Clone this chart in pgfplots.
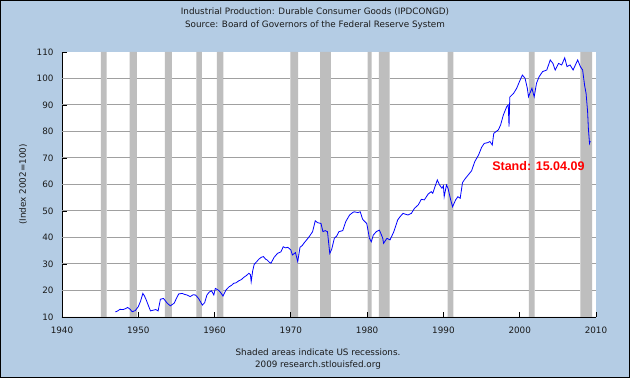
\documentclass[border=0pt]{standalone}
\usepackage{pgfplots}
\pgfplotsset{compat=1.18}
\usepackage{fontspec}
\setmainfont{DejaVu Sans}
\newfontfamily\arialfont{Liberation Sans}
\definecolor{bgblue}{HTML}{B4CCE4}
\definecolor{recgray}{HTML}{BEBEBE}
\definecolor{gridgray}{HTML}{A0A0A0}
\definecolor{txt}{HTML}{1A1A1A}
\begin{document}
\begin{tikzpicture}[x=1pt,y=1pt]
\fill[bgblue] (0,0) rectangle (630,378);
\draw[black, line width=1pt] (0.5,0.5) rectangle (629.5,377.5);
\fill[white] (62,61) rectangle (596,326);
\begin{scope}[font=\fontsize{8.8}{10}\selectfont, text=txt]
\node at (315,366) {Industrial Production: Durable Consumer Goods (IPDCONGD)};
\node at (315,352.5) {Source: Board of Governors of the Federal Reserve System};
\node at (318,26) {Shaded areas indicate US recessions.};
\node at (318,13) {2009 research.stlouisfed.org};
\node[rotate=90] at (23,193.5) {(Index 2002=100)};
\end{scope}
\begin{axis}[
  at={(62pt,61pt)}, anchor=south west,
  scale only axis, width=534pt, height=265pt,
  xmin=1940, xmax=2010, ymin=10, ymax=110,
  xtick={1940,1950,...,2010}, ytick={10,20,...,110},
  axis x line*=bottom, axis y line*=left,
  axis line style={black, line width=0.9pt},
  tick align=inside, major tick length=5pt,
  every tick/.style={black, line width=0.8pt},
  /pgf/number format/assume math mode=true,
  /pgf/number format/1000 sep={},
  ticklabel style={font=\fontsize{8.8}{10}\selectfont, text=txt},
  yticklabel style={xshift=-5pt},
  xticklabel style={yshift=-6pt},
]
% recession bars (start, end)
\addplot[fill=recgray, draw=none, const plot mark left, forget plot] coordinates {
 (1940,0) (1945.1,110) (1945.85,0) (1948.85,110) (1949.8,0)
 (1953.5,110) (1954.4,0) (1957.6,110) (1958.35,0)
 (1960.3,110) (1961.15,0) (1969.95,110) (1970.95,0)
 (1973.85,110) (1975.25,0) (1980.05,110) (1980.6,0)
 (1981.55,110) (1982.95,0) (1990.55,110) (1991.3,0)
 (2001.2,110) (2001.95,0) (2007.95,110) (2009.5,0) (2010,0)
} \closedcycle;
% horizontal grid lines, interrupted by the recession bars
\pgfplotsinvokeforeach{20,30,40,50,60,70,80,90,100}{
\addplot[gridgray, line width=1pt, unbounded coords=jump, forget plot] coordinates {
 (1940,#1) (1945.1,#1) (1945.1,nan) (1945.85,#1) (1948.85,#1) (1948.85,nan)
 (1949.8,#1) (1953.5,#1) (1953.5,nan) (1954.4,#1) (1957.6,#1) (1957.6,nan)
 (1958.35,#1) (1960.3,#1) (1960.3,nan) (1961.15,#1) (1969.95,#1) (1969.95,nan)
 (1970.95,#1) (1973.85,#1) (1973.85,nan) (1975.25,#1) (1980.05,#1) (1980.05,nan)
 (1980.6,#1) (1981.55,#1) (1981.55,nan) (1982.95,#1) (1990.55,#1) (1990.55,nan)
 (1991.3,#1) (2001.2,#1) (2001.2,nan) (2001.95,#1) (2007.95,#1) (2007.95,nan)
 (2009.5,#1) (2010,#1)
};
}
% IPDCONGD
\addplot[blue, line width=0.8pt] coordinates {
(1947.0,11.9) (1947.3,12.3) (1947.6,12.9) (1948.0,12.8) (1948.3,13.1) (1948.6,13.6)
(1948.9,13.0) (1949.2,12.0) (1949.6,12.4) (1950.0,13.9) (1950.3,16.0) (1950.6,18.9)
(1950.8,18.0) (1951.05,16.4) (1951.3,14.5) (1951.6,12.3) (1952.0,12.6) (1952.3,12.8)
(1952.6,12.3) (1952.9,16.7) (1953.3,17.0) (1953.8,15.2) (1954.2,14.2) (1954.7,15.2)
(1955.0,17.0) (1955.3,18.7) (1955.75,18.9) (1956.1,18.5) (1956.4,18.3) (1956.8,17.7)
(1957.2,18.4) (1957.5,18.3) (1957.9,17.0) (1958.2,15.5) (1958.4,14.5) (1958.7,15.4)
(1959.0,18.3) (1959.3,19.4) (1959.6,19.9) (1959.9,18.3) (1960.1,20.8) (1960.4,20.3)
(1960.6,19.9) (1960.9,18.8) (1961.1,17.9) (1961.5,20.2) (1961.9,21.4) (1962.2,21.9)
(1962.5,22.7) (1962.8,22.9) (1963.2,23.7) (1963.5,24.1) (1963.85,25.0) (1964.2,25.7)
(1964.5,26.5) (1964.7,26.0) (1964.8,23.3) (1965.0,27.5) (1965.2,29.9) (1965.5,30.8)
(1965.8,31.8) (1966.1,32.5) (1966.4,32.8) (1966.7,31.8) (1966.9,31.5) (1967.2,30.6)
(1967.4,30.3) (1967.8,32.5) (1968.25,34.0) (1968.7,34.6) (1969.0,36.5) (1969.3,36.1)
(1969.6,36.3) (1970.0,35.3) (1970.2,33.4) (1970.6,34.3) (1970.9,30.9) (1971.2,36.3)
(1971.5,37.0) (1971.75,38.0) (1972.1,39.2) (1972.4,40.3) (1972.85,42.2) (1973.2,46.3)
(1973.5,45.6) (1973.95,45.3) (1974.2,42.2) (1974.5,42.6) (1974.8,42.2) (1975.1,34.0)
(1975.35,35.5) (1975.7,39.7) (1976.0,40.5) (1976.3,42.2) (1976.8,42.6) (1977.2,46.0)
(1977.7,48.5) (1978.1,49.4) (1978.3,49.7) (1978.8,49.4) (1979.1,49.7) (1979.4,46.9)
(1979.7,46.0) (1979.95,45.3) (1980.3,39.7) (1980.55,38.4) (1980.8,40.9) (1981.2,42.2)
(1981.6,42.8) (1981.8,41.5) (1982.05,39.7) (1982.15,37.8) (1982.6,39.7) (1983.0,39.1)
(1983.5,42.2) (1984.0,46.6) (1984.3,47.8) (1984.7,49.1) (1985.0,48.8) (1985.35,48.5)
(1985.8,49.1) (1986.2,51.0) (1986.7,52.3) (1987.1,54.4) (1987.5,54.2) (1988.0,56.4)
(1988.4,57.3) (1988.6,56.7) (1988.9,59.2) (1989.2,61.7) (1989.5,59.8) (1989.8,58.6)
(1990.0,59.5) (1990.1,55.4) (1990.4,59.8) (1990.6,58.6) (1990.95,54.2) (1991.2,51.6)
(1991.6,54.2) (1991.9,55.4) (1992.2,54.8) (1992.5,60.7) (1992.8,62.0) (1993.25,63.6)
(1993.7,65.2) (1994.1,68.6) (1994.6,71.1) (1995.0,74.0) (1995.35,75.5) (1995.8,75.8)
(1996.1,76.2) (1996.4,74.9) (1996.6,79.3) (1997.2,80.6) (1997.5,82.5) (1997.85,86.2)
(1998.3,89.4) (1998.5,90.0) (1998.6,81.8) (1998.7,93.0) (1999.2,94.4) (1999.6,96.3)
(2000.05,99.4) (2000.35,101.3) (2000.7,100.1) (2001.0,96.3) (2001.15,93.1) (2001.6,96.3)
(2001.9,93.1) (2002.2,98.2) (2002.55,100.7) (2003.0,102.6) (2003.55,103.2) (2004.0,107.0)
(2004.35,105.7) (2004.65,103.2) (2005.1,105.7) (2005.5,105.1) (2005.9,107.8) (2006.2,104.5)
(2006.6,105.1) (2007.0,103.2) (2007.3,105.1) (2007.6,107.0) (2007.95,104.5) (2008.25,103.2)
(2008.5,97.5) (2008.7,94.4) (2008.9,87.5) (2009.0,81.2) (2009.15,75.5) (2009.25,76.4)
};
\end{axis}
% redraw bottom axis line and x ticks over the recession bars
\draw[black, line width=0.9pt] (61.55,61) -- (596,61);
\foreach \i in {0,...,7} {\draw[black, line width=0.8pt] ({62+\i*534/7},61) -- ++(0,5);}
\node[anchor=east, text=red, font=\arialfont\bfseries\fontsize{12.5}{14}\selectfont] at (588,212) {Stand: 15.04.09};
\end{tikzpicture}
\end{document}
